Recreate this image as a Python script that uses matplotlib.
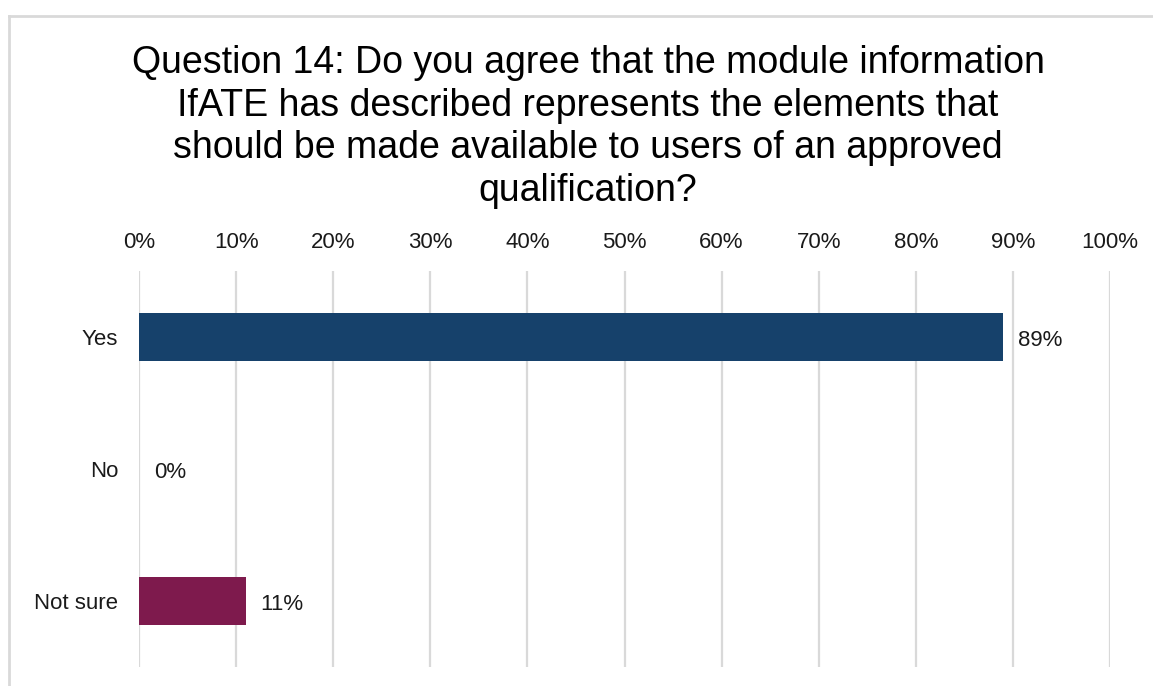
import matplotlib.pyplot as plt
from matplotlib.lines import Line2D
from matplotlib.ticker import FuncFormatter

plt.rcParams['font.family'] = ['Liberation Sans', 'DejaVu Sans']

# Survey responses (share of respondents)
answers = ['Yes', 'No', 'Not sure']
shares = [89, 0, 11]
bar_colors = ['#16416B', '#16416B', '#7E1A4D']
x_ticks = list(range(0, 101, 10))

title = ('Question 14: Do you agree that the module information\n'
         'IfATE has described represents the elements that\n'
         'should be made available to users of an approved\n'
         'qualification?')

fig = plt.figure(figsize=(11.53, 6.86), dpi=100)
ax = fig.add_axes([0.1206, 0.0277, 0.8421, 0.5773])

ypos = list(range(len(answers)))
ax.barh(ypos, shares, height=0.36, color=bar_colors, zorder=3)

for y, v in zip(ypos, shares):
    ax.annotate(f'{v}%', xy=(v, y), xytext=(10.5, -2.5), textcoords='offset points',
                ha='left', va='center', fontsize=16, color='#1a1a1a')

ax.set_xlim(0, 100)
ax.set_ylim(len(answers) - 0.5, -0.5)
ax.set_xticks(x_ticks)
ax.xaxis.set_major_formatter(FuncFormatter(lambda v, p: f'{v:.0f}%'))
ax.set_yticks(ypos)
ax.set_yticklabels(answers)

ax.xaxis.tick_top()
ax.tick_params(axis='x', length=0, pad=13, labelsize=16, labelcolor='#1a1a1a')
ax.tick_params(axis='y', length=0, pad=15, labelsize=16, labelcolor='#1a1a1a')

ax.grid(axis='x', color='#D9D9D9', linewidth=1.6, zorder=0)
for s in ax.spines.values():
    s.set_visible(False)

fig.text(0.51, 1 - 127 / 686, title, ha='center', va='center', fontsize=27,
         linespacing=1.24, color='#000000')

# outer frame (left and top edges)
fig.add_artist(Line2D([9 / 1153, 9 / 1153], [0, 1 - 16 / 686], transform=fig.transFigure,
                      color='#D9D9D9', linewidth=2))
fig.add_artist(Line2D([9 / 1153, 1], [1 - 16 / 686, 1 - 16 / 686], transform=fig.transFigure,
                      color='#D9D9D9', linewidth=2))

fig.savefig('out.png', dpi=100, facecolor='white')
